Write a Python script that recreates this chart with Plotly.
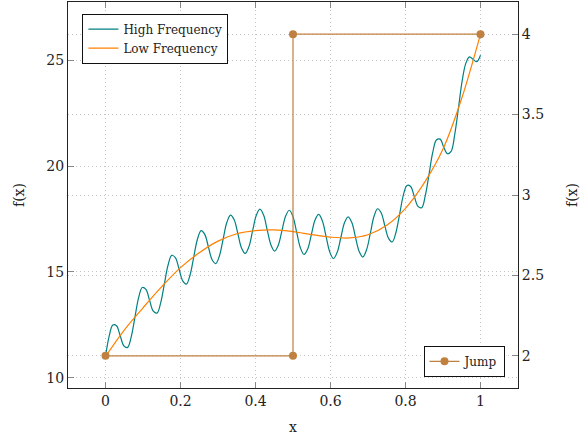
import plotly.graph_objects as go

# High-frequency signal: sampled every eighth of a period
hf_x = [0.0000, 0.0098, 0.0196, 0.0294, 0.0392, 0.0490, 0.0588, 0.0686, 0.0784, 0.0882,
        0.0980, 0.1078, 0.1176, 0.1275, 0.1373, 0.1471, 0.1569, 0.1667, 0.1765, 0.1863,
        0.1961, 0.2059, 0.2157, 0.2255, 0.2353, 0.2451, 0.2549, 0.2647, 0.2745, 0.2843,
        0.2941, 0.3039, 0.3137, 0.3235, 0.3333, 0.3431, 0.3529, 0.3627, 0.3725, 0.3824,
        0.3922, 0.4020, 0.4118, 0.4216, 0.4314, 0.4412, 0.4510, 0.4608, 0.4706, 0.4804,
        0.4902, 0.5000, 0.5098, 0.5196, 0.5294, 0.5392, 0.5490, 0.5588, 0.5686, 0.5784,
        0.5882, 0.5980, 0.6078, 0.6176, 0.6275, 0.6373, 0.6471, 0.6569, 0.6667, 0.6765,
        0.6863, 0.6961, 0.7059, 0.7157, 0.7255, 0.7353, 0.7451, 0.7549, 0.7647, 0.7745,
        0.7843, 0.7941, 0.8039, 0.8137, 0.8235, 0.8333, 0.8431, 0.8529, 0.8627, 0.8725,
        0.8824, 0.8922, 0.9020, 0.9118, 0.9216, 0.9314, 0.9412, 0.9510, 0.9608, 0.9706,
        0.9804, 0.9902, 1.0000]
hf_y = [11.00, 11.96, 12.49, 12.45, 11.98, 11.50, 11.43, 11.93, 12.85, 13.77,
        14.26, 14.17, 13.65, 13.14, 13.05, 13.53, 14.42, 15.31, 15.78, 15.67,
        15.13, 14.57, 14.42, 14.85, 15.70, 16.54, 16.95, 16.77, 16.17, 15.57,
        15.39, 15.76, 16.55, 17.33, 17.68, 17.46, 16.81, 16.13, 15.87, 16.19,
        16.93, 17.66, 17.96, 17.68, 16.97, 16.27, 15.98, 16.26, 16.95, 17.64,
        17.91, 17.60, 16.87, 16.14, 15.82, 16.08, 16.76, 17.45, 17.71, 17.40,
        16.67, 15.94, 15.63, 15.91, 16.61, 17.32, 17.60, 17.33, 16.63, 15.96,
        15.70, 16.04, 16.79, 17.60, 17.98, 17.78, 17.16, 16.58, 16.41, 16.86,
        17.72, 18.61, 19.08, 19.03, 18.56, 18.09, 18.03, 18.61, 19.60, 20.63,
        21.23, 21.27, 20.89, 20.58, 20.69, 21.51, 22.74, 24.01, 24.85, 25.16,
        25.04, 24.93, 25.23]

# Low-frequency trend
lf_x = [0.00, 0.05, 0.10, 0.15, 0.20, 0.25, 0.30, 0.35, 0.40, 0.45, 0.50,
        0.55, 0.60, 0.65, 0.70, 0.75, 0.80, 0.85, 0.90, 0.95, 1.00]
lf_y = [11.00, 12.25, 13.30, 14.30, 15.20, 15.90, 16.45, 16.80, 16.95, 16.98, 16.90,
        16.76, 16.64, 16.60, 16.75, 17.20, 18.00, 19.20, 20.80, 23.20, 26.23]

# Step function on the secondary axis
jump_x = [0, 0.5, 0.5, 1]
jump_y = [2, 2, 4, 4]

x_ticks = [0, 0.2, 0.4, 0.6, 0.8, 1]
x_labels = ["0", "0.2", "0.4", "0.6", "0.8", "1"]
y_ticks = [10, 15, 20, 25]
y2_ticks = [2, 2.5, 3, 3.5, 4]
y2_labels = ["2", "2.5", "3", "3.5", "4"]

TEAL = "rgb(0,128,128)"
ORANGE = "rgb(255,128,0)"
BROWN = "rgb(191,128,64)"
FONT = "DejaVu Serif"
GRID = "#c4c4c4"

fig = go.Figure()
fig.add_trace(go.Scatter(
    x=hf_x, y=hf_y, mode="lines", name="High Frequency",
    line=dict(color=TEAL, width=1.2, shape="spline", smoothing=1.0),
    legend="legend",
))
fig.add_trace(go.Scatter(
    x=lf_x, y=lf_y, mode="lines", name="Low Frequency",
    line=dict(color=ORANGE, width=1.2, shape="spline", smoothing=1.0),
    legend="legend",
))
fig.add_trace(go.Scatter(
    x=jump_x, y=jump_y, mode="lines+markers", name="Jump", yaxis="y2",
    line=dict(color=BROWN, width=1.2),
    marker=dict(color=BROWN, size=8),
    legend="legend2",
))

axis_common = dict(
    showline=True, linecolor="#222", linewidth=1,
    ticks="inside", ticklen=6, tickcolor="#888", tickwidth=1,
    showgrid=True, gridcolor=GRID, griddash="1px,3px", gridwidth=1,
    zeroline=False,
    tickfont=dict(family=FONT, size=14, color="#222"),
    title_font=dict(family=FONT, size=14, color="#222"),
)

fig.update_layout(
    width=581, height=441,
    margin=dict(l=68, r=63, t=2, b=53),
    template="none",
    plot_bgcolor="white", paper_bgcolor="white",
    xaxis=dict(
        range=[-0.1, 1.1], tickvals=x_ticks, ticktext=x_labels,
        mirror="ticks", title=dict(text="x", standoff=14), **axis_common,
    ),
    yaxis=dict(
        range=[9.51, 27.75], tickvals=y_ticks,
        title=dict(text="f(x)", standoff=18), **axis_common,
    ),
    yaxis2=dict(
        range=[1.8, 4.2], tickvals=y2_ticks, ticktext=y2_labels,
        overlaying="y", side="right",
        title=dict(text="f(x)", standoff=24), **axis_common,
    ),
    legend=dict(
        x=0.032, y=0.97, xanchor="left", yanchor="top",
        bordercolor="#111", borderwidth=1, bgcolor="white",
        font=dict(family=FONT, size=12, color="#222"),
        tracegroupgap=0,
    ),
    legend2=dict(
        x=0.97, y=0.029, xanchor="right", yanchor="bottom",
        bordercolor="#111", borderwidth=1, bgcolor="white",
        font=dict(family=FONT, size=12, color="#222"),
    ),
)

fig.write_html("out.html")
